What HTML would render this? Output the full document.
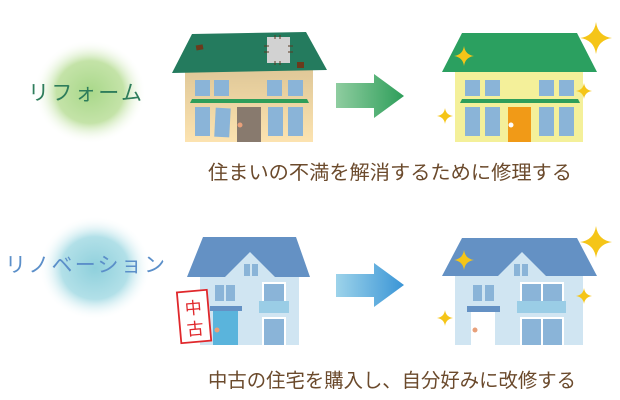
<!DOCTYPE html>
<html><head><meta charset="utf-8"><style>
html,body{margin:0;padding:0;background:#fff;}
svg{display:block;}
text{font-family:"Liberation Sans","Noto Sans CJK JP",sans-serif;}
</style></head><body>
<svg width="620" height="400" viewBox="0 0 620 400" xmlns="http://www.w3.org/2000/svg">
<defs>
<radialGradient id="gg"><stop offset="0" stop-color="#a9d88a"/><stop offset="0.6" stop-color="#c4e3a8"/><stop offset="1" stop-color="#fff" stop-opacity="0"/></radialGradient>
<radialGradient id="bg"><stop offset="0" stop-color="#8fd0dc"/><stop offset="0.6" stop-color="#b2e0e8"/><stop offset="1" stop-color="#fff" stop-opacity="0"/></radialGradient>
<linearGradient id="ga" x1="0" x2="1"><stop offset="0" stop-color="#8fcda0"/><stop offset="1" stop-color="#2e9e5a"/></linearGradient>
<linearGradient id="ba" x1="0" x2="1"><stop offset="0" stop-color="#9dd3ea"/><stop offset="1" stop-color="#3a95d6"/></linearGradient>
<linearGradient id="wall1" x1="0" y1="0" x2="0" y2="1"><stop offset="0" stop-color="#e0c898"/><stop offset="1" stop-color="#fce3b0"/></linearGradient>
<symbol id="sp" viewBox="-10 -10 20 20"><path d="M0,-10 Q1.2,-1.2 10,0 Q1.2,1.2 0,10 Q-1.2,1.2 -10,0 Q-1.2,-1.2 0,-10Z" fill="#f5c518"/></symbol>
</defs>

<ellipse cx="90" cy="92" rx="56" ry="52" fill="url(#gg)"/>
<ellipse cx="95" cy="268" rx="56" ry="52" fill="url(#bg)"/>
<text x="28" y="100" font-size="21" fill="#2e7d5b" textLength="114" lengthAdjust="spacing">リフォーム</text>
<text x="5" y="272" font-size="21" fill="#5b8fc9" textLength="160" lengthAdjust="spacing">リノベーション</text>

<!-- arrows -->
<path d="M336,83 H374 V74 L404,96 L374,118 V108 H336Z" fill="url(#ga)"/>
<path d="M336,274 H374 V263 L404,285 L374,307 V297 H336Z" fill="url(#ba)"/>

<!-- house 1 left -->
<rect x="185" y="70" width="128" height="72" fill="url(#wall1)"/>
<polygon points="192,34 306,32 327,70 172,73" fill="#247b5e"/>
<rect x="196" y="45" width="7" height="5" fill="#6b3a1c" transform="rotate(-10 199 47)"/>
<rect x="297" y="62" width="7" height="6" fill="#6b3a1c"/>
<rect x="267" y="37" width="23" height="26" fill="#d2d2d2"/>
<g stroke="#5a3a22" stroke-width="1"><line x1="275" y1="35" x2="275" y2="39"/><line x1="280" y1="35" x2="280" y2="39"/><line x1="275" y1="61" x2="275" y2="65"/><line x1="280" y1="61" x2="280" y2="65"/><line x1="264" y1="46" x2="269" y2="46"/><line x1="264" y1="52" x2="269" y2="52"/><line x1="288" y1="46" x2="293" y2="46"/><line x1="288" y1="52" x2="293" y2="52"/></g>
<g fill="#8ab4d8"><rect x="195" y="80" width="15" height="16"/><rect x="214" y="80" width="15" height="16"/><rect x="267" y="80" width="15" height="16"/><rect x="288" y="80" width="15" height="16"/>
<rect x="195" y="107" width="15" height="29"/><rect x="215" y="108" width="15" height="29" transform="rotate(3 222 122)"/><rect x="268" y="107" width="15" height="29"/><rect x="288" y="107" width="15" height="29"/></g>
<polygon points="192,99 307,99 309,103 190,103" fill="#2e9e5a"/>
<rect x="237" y="107" width="24" height="35" fill="#887a6e"/>
<circle cx="240" cy="125" r="2.5" fill="#e8a07a"/>

<!-- house 1 right -->
<rect x="455" y="72" width="128" height="70" fill="#f4f09a"/>
<polygon points="462,33 577,33 597,72 442,72" fill="#2ba060"/>
<g fill="#8ab4d8"><rect x="465" y="80" width="15" height="16"/><rect x="485" y="80" width="15" height="16"/><rect x="539" y="80" width="15" height="16"/><rect x="559" y="80" width="15" height="16"/>
<rect x="465" y="107" width="15" height="29"/><rect x="485" y="107" width="15" height="29"/><rect x="539" y="107" width="15" height="29"/><rect x="559" y="107" width="15" height="29"/></g>
<polygon points="462,99 578,99 580,103 460,103" fill="#2e9e5a"/>
<rect x="508" y="107" width="23" height="35" fill="#f19a17"/>
<circle cx="511" cy="125" r="2.5" fill="#fff"/>
<use href="#sp" x="580" y="22" width="32" height="32"/>
<use href="#sp" x="454" y="46" width="20" height="20"/>
<use href="#sp" x="576" y="83" width="16" height="16"/>
<use href="#sp" x="437" y="108" width="16" height="16"/>

<!-- house 2 left -->
<rect x="200" y="276" width="99" height="69" fill="#d0e5f2"/>
<polygon points="203,237 296,237 310,277 187,277" fill="#6491c4"/>
<polygon points="250,252 225,277 275,277" fill="#d0e5f2"/>
<g fill="#8ab4d8"><rect x="244" y="264" width="6" height="12"/><rect x="252" y="264" width="6" height="12"/>
<rect x="215" y="285" width="9" height="16"/><rect x="226" y="285" width="9" height="16"/></g>
<rect x="262" y="282" width="24" height="19" fill="#fff"/><rect x="264" y="284" width="20" height="17" fill="#8ab4d8"/>
<rect x="259" y="301" width="30" height="12" fill="#9acde6"/>
<rect x="262" y="317" width="24" height="28" fill="#fff"/><rect x="264" y="319" width="20" height="26" fill="#8ab4d8"/>
<rect x="210" y="306" width="32" height="5" fill="#6491c4"/>
<rect x="213" y="311" width="25" height="34" fill="#5ab4dc"/>
<circle cx="217" cy="330" r="2.5" fill="#e8a07a"/>
<g transform="rotate(-5 194 316)">
<rect x="179" y="291" width="30" height="51" fill="#fff" stroke="#e0282c" stroke-width="1.8"/>
<text x="194" y="314" font-size="17" fill="#e0282c" text-anchor="middle">中</text>
<text x="194" y="335" font-size="17" fill="#e0282c" text-anchor="middle">古</text>
</g>

<!-- house 2 right -->
<rect x="455" y="276" width="128" height="69" fill="#d0e5f2"/>
<polygon points="462,238 577,238 597,276 442,276" fill="#6491c4"/>
<polygon points="522,252 497,277 547,277" fill="#d0e5f2"/>
<g fill="#8ab4d8"><rect x="514" y="264" width="6" height="12"/><rect x="522" y="264" width="6" height="12"/>
<rect x="473" y="285" width="9" height="16"/><rect x="485" y="285" width="9" height="16"/></g>
<rect x="520" y="282" width="44" height="19" fill="#fff"/><rect x="522" y="284" width="19" height="17" fill="#8ab4d8"/><rect x="543" y="284" width="19" height="17" fill="#8ab4d8"/>
<rect x="517" y="301" width="49" height="12" fill="#9acde6"/>
<rect x="520" y="317" width="44" height="28" fill="#fff"/><rect x="522" y="319" width="19" height="26" fill="#8ab4d8"/><rect x="543" y="319" width="19" height="26" fill="#8ab4d8"/>
<rect x="467" y="306" width="33" height="6" fill="#6491c4"/>
<rect x="471" y="312" width="24" height="33" fill="#fff"/>
<circle cx="475" cy="330" r="2.5" fill="#e8a07a"/>
<use href="#sp" x="580" y="226" width="32" height="32"/>
<use href="#sp" x="454" y="250" width="20" height="20"/>
<use href="#sp" x="576" y="288" width="16" height="16"/>
<use href="#sp" x="437" y="310" width="16" height="16"/>

<text x="208" y="179" font-size="19.5" fill="#6b4a2c" textLength="364" lengthAdjust="spacingAndGlyphs">住まいの不満を解消するために修理する</text>
<text x="208" y="387" font-size="19.5" fill="#6b4a2c" textLength="368" lengthAdjust="spacingAndGlyphs">中古の住宅を購入し、自分好みに改修する</text>
</svg>
</body></html>
